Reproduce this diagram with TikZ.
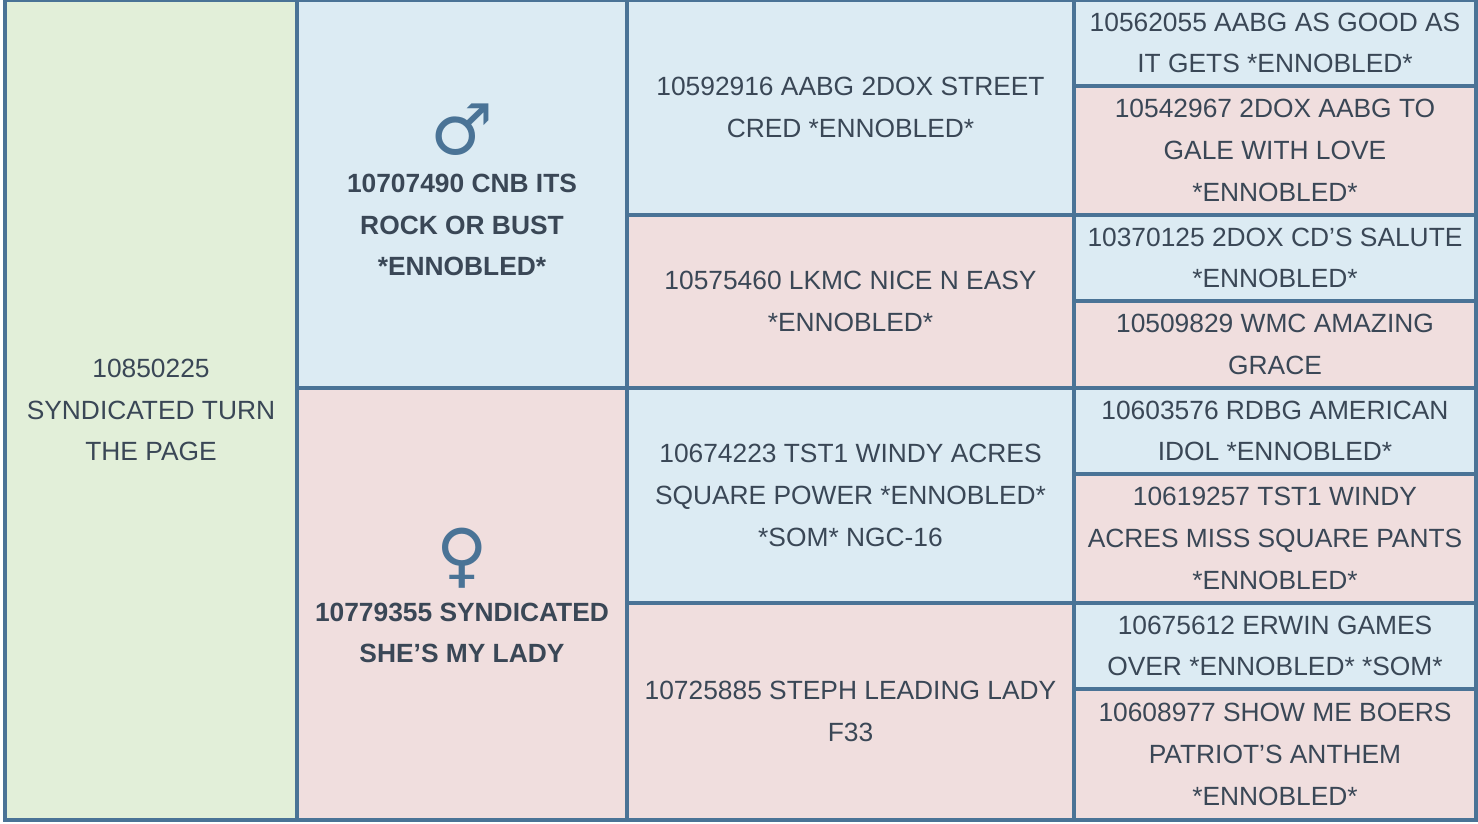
\documentclass[tikz,border=0pt]{standalone}
\usepackage{fontspec}
\setmainfont{Liberation Sans}[Ligatures=NoCommon]
\newfontfamily\symfont{DejaVu Sans}
\usetikzlibrary{calc}
\definecolor{sire}{HTML}{DCEBF3}
\definecolor{dam}{HTML}{F0DEDE}
\definecolor{self}{HTML}{E2EFD9}
\definecolor{rule}{HTML}{4A7396}
\definecolor{ink}{HTML}{3A4756}
\tikzset{
  cellbox/.style={draw=rule, line width=2.2pt},
  celltext/.style={align=center, text=ink, inner sep=0pt,
    font=\fontsize{15}{23.8}\selectfont},
  boldtext/.style={celltext, font=\fontsize{15}{23.8}\selectfont\bfseries},
}
\newcommand{\ap}{\symbol{39}}
% \pcell{x1}{y1}{x2}{y2}{fill}{name}{text}
\newcommand{\pcell}[7]{%
  \draw[cellbox, fill=#5] (#1,#2) rectangle (#3,#4);
  \node[celltext] (#6) at ($(#1,#2)!0.5!(#3,#4)$) {#7};}
\begin{document}
\begin{tikzpicture}[x=0.02cm, y=-0.02cm]
  \useasboundingbox (0,0) rectangle (1478,824);
  \pcell{5}{0}{297}{820}{self}{subject}{10850225\\SYNDICATED TURN\\THE PAGE}
  % parents
  \draw[cellbox, fill=sire] (297,0) rectangle (627,388);
  \node[boldtext] (sireA) at (462,225) {10707490 CNB ITS\\ROCK OR BUST\\*ENNOBLED*};
  \node[text=rule, font=\symfont\fontsize{40}{40}\selectfont] (male) at (462,130) {♂};
  \draw[cellbox, fill=dam] (297,388) rectangle (627,820);
  \node[boldtext] (damA) at (462,633) {10779355 SYNDICATED\\SHE\ap S MY LADY};
  \node[text=rule, font=\symfont\fontsize{40}{40}\selectfont] (female) at (462,558) {♀};
  % grandparents
  \pcell{627}{0}{1074}{215}{sire}{gsA}{10592916 AABG 2DOX STREET\\CRED *ENNOBLED*}
  \pcell{627}{215}{1074}{388}{dam}{gdA}{10575460 LKMC NICE N EASY\\*ENNOBLED*}
  \pcell{627}{388}{1074}{603}{sire}{gsB}{10674223 TST1 WINDY ACRES\\SQUARE POWER *ENNOBLED*\\*SOM* NGC-16}
  \pcell{627}{603}{1074}{820}{dam}{gdB}{10725885 STEPH LEADING LADY\\F33}
  % great-grandparents
  \pcell{1074}{0}{1476}{86}{sire}{ggA}{10562055 AABG AS GOOD AS\\IT GETS *ENNOBLED*}
  \pcell{1074}{86}{1476}{215}{dam}{ggB}{10542967 2DOX AABG TO\\GALE WITH LOVE\\*ENNOBLED*}
  \pcell{1074}{215}{1476}{301}{sire}{ggC}{10370125 2DOX CD\ap S SALUTE\\*ENNOBLED*}
  \pcell{1074}{301}{1476}{388}{dam}{ggD}{10509829 WMC AMAZING\\GRACE}
  \pcell{1074}{388}{1476}{474}{sire}{ggE}{10603576 RDBG AMERICAN\\IDOL *ENNOBLED*}
  \pcell{1074}{474}{1476}{603}{dam}{ggF}{10619257 TST1 WINDY\\ACRES MISS SQUARE PANTS\\*ENNOBLED*}
  \pcell{1074}{603}{1476}{689}{sire}{ggG}{10675612 ERWIN GAMES\\OVER *ENNOBLED* *SOM*}
  \pcell{1074}{689}{1476}{820}{dam}{ggH}{10608977 SHOW ME BOERS\\PATRIOT\ap S ANTHEM\\*ENNOBLED*}
\end{tikzpicture}
\end{document}
